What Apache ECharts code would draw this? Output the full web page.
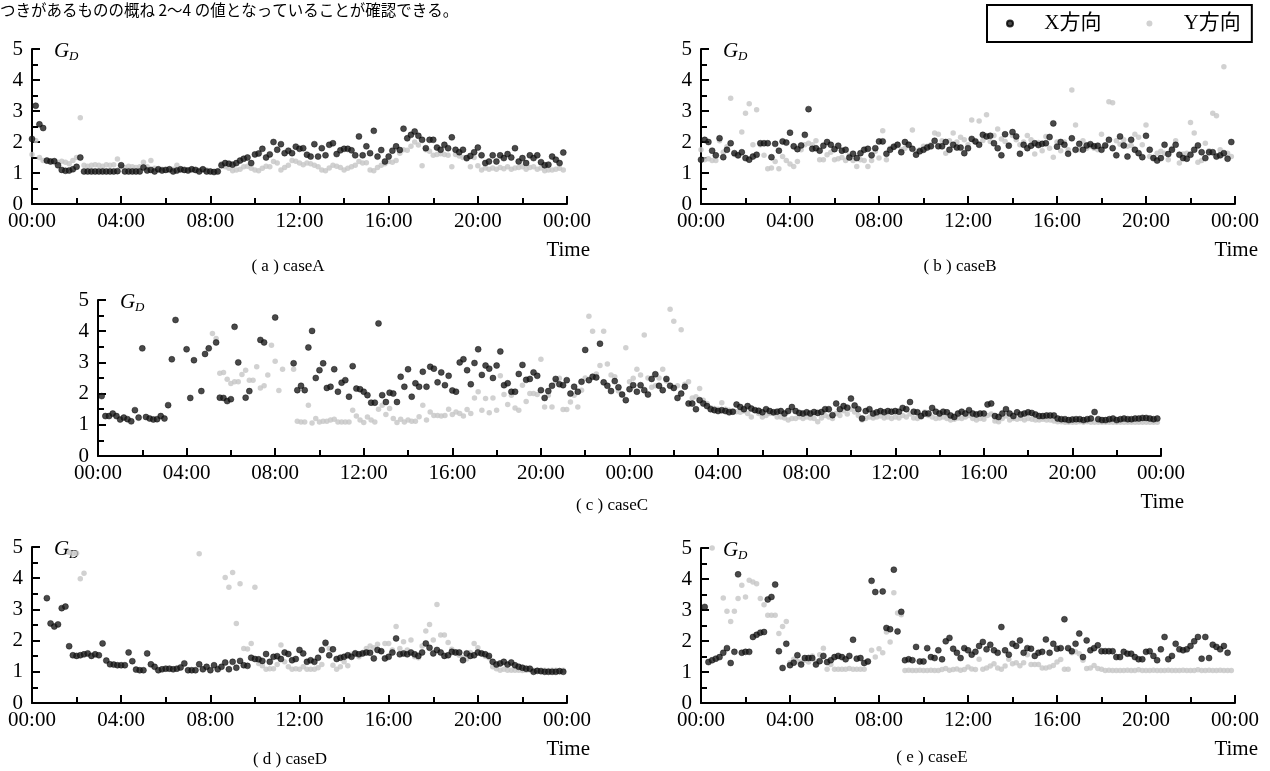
<!DOCTYPE html>
<html><head><meta charset="utf-8">
<script src="https://cdn.jsdelivr.net/npm/echarts@6/dist/echarts.min.js"></script>
<style>html,body{margin:0;padding:0;background:#fff}#c{width:1270px;height:771px}</style>
</head><body><div id="c"></div>
<script>
// values every 10 minutes from 00:00 (null = no point)
const STEP_MINUTES = 10;
const seriesNames = ['X方向', 'Y方向'];
const captions = ['( a ) caseA', '( b ) caseB', '( c ) caseC', '( d ) caseD', '( e ) caseE'];
const yTicks = [0, 1, 2, 3, 4, 5];

const caseA_X = [
2.1,3.17,2.57,2.45,1.4,1.37, 1.38,1.25,1.1,1.07,1.08,1.12, 1.2,1.5,1.05,1.05,1.05,1.05,
1.05,1.05,1.05,1.05,1.05,1.06, 1.25,1.05,1.05,1.05,1.05,1.05, 1.18,1.08,1.1,1.05,1.12,1.08,
1.1,1.12,1.05,1.08,1.12,1.1, 1.08,1.12,1.1,1.05,1.12,1.05, 1.05,1.03,1.05,1.25,1.32,1.3,
1.27,1.32,1.4,1.46,1.5,1.32, 1.6,1.63,1.78,1.5,1.6,2.0, 1.75,1.93,1.64,1.72,1.64,1.85,
1.78,1.8,1.59,1.53,1.93,1.53, 1.8,1.57,1.91,1.96,1.61,1.73, 1.78,1.78,1.73,1.57,2.18,1.57,
1.86,1.64,2.36,1.53,1.74,1.37, 1.53,1.72,1.86,1.74,2.43,2.12, 2.23,2.34,2.2,2.07,1.8,2.07,
2.07,1.82,1.75,1.91,1.8,2.15, 1.75,1.67,1.75,1.48,1.55,1.67, 1.82,1.57,1.32,1.37,1.57,1.37,
1.57,1.48,1.61,1.5,1.8,1.37, 1.48,1.32,1.57,1.48,1.57,1.35, 1.25,1.27,1.53,1.43,1.32,1.66];
const caseA_Y = [
1.6,2.05,1.5,1.4,1.38,1.38, 1.4,1.35,1.38,1.35,1.3,1.4, 1.5,2.78,1.25,1.22,1.25,1.27,
1.25,1.22,1.27,1.25,1.27,1.45, 1.2,1.18,1.22,1.2,1.18,1.2, 1.35,1.2,1.4,1.15,1.1,1.12,
1.1,1.08,1.12,1.25,1.1,1.08, 1.1,1.12,1.08,1.1,1.12,1.1, 1.05,1.05,1.08,1.3,1.2,1.15,
1.07,1.1,1.12,1.2,1.22,1.15, 1.1,1.07,1.15,1.22,1.2,1.37, 1.32,1.1,1.18,1.25,1.4,1.38,
1.32,1.27,1.32,1.3,1.25,1.2, 1.1,1.07,1.16,1.25,1.22,1.18, 1.1,1.15,1.2,1.25,1.37,1.32,
1.33,1.1,1.07,1.18,1.25,1.3, 1.37,1.35,1.4,1.64,1.75,1.73, 1.86,2.0,1.9,1.23,1.75,1.7,
1.57,1.6,1.62,1.6,1.57,1.2, 1.6,1.55,1.5,1.45,1.2,1.5, 1.23,1.1,1.16,1.12,1.16,1.12,
1.18,1.14,1.2,1.12,1.16,1.18, 1.2,1.12,1.18,1.2,1.12,1.16, 1.07,1.1,1.1,1.12,1.15,1.1];

const caseB_X = [
1.43,2.07,2.0,1.72,1.57,2.12, 1.51,1.75,1.96,1.64,1.57,1.67, 1.48,1.43,1.53,1.59,1.96,1.96,
1.96,1.51,1.94,1.72,2.02,1.98, 2.3,1.86,1.77,1.89,2.23,3.06, 1.78,1.8,1.72,1.88,2.0,1.91,
1.77,1.88,1.72,1.75,1.5,1.62, 1.48,1.64,1.75,1.78,1.57,1.8, 2.02,2.02,1.62,1.75,1.85,1.91,
1.67,2.0,1.91,1.78,1.59,1.7, 1.75,1.82,1.86,2.04,1.86,1.86, 2.0,1.75,1.91,1.82,1.82,1.64,
1.8,2.1,2.02,1.91,2.23,2.18, 2.2,1.96,1.8,1.57,2.25,1.88, 2.32,2.18,1.62,1.91,1.8,1.88,
1.96,1.9,1.94,1.96,2.16,2.6, 1.85,2.0,1.91,1.62,2.12,1.75, 1.94,1.75,1.89,1.93,1.86,1.88,
1.75,1.89,2.07,1.8,1.57,2.18, 1.89,1.53,2.07,1.75,1.64,1.51, 2.2,1.75,1.48,1.4,1.48,1.91,
1.61,1.75,1.91,1.59,1.48,1.46, 1.59,1.75,1.89,1.67,1.48,1.67, 1.67,1.53,1.57,1.64,1.46,2.0];
const caseB_Y = [
1.75,1.43,1.46,1.4,1.4,2.04, 1.67,1.85,3.41,1.6,1.55,2.32, 2.93,3.23,1.91,3.04,1.91,1.57,
1.14,1.16,1.37,1.14,1.53,1.4, 1.29,1.21,1.37,1.75,1.91,1.96, 1.91,2.04,1.43,1.43,1.59,1.67,
1.43,1.46,1.5,1.4,1.57,1.4, 1.21,1.43,1.4,1.21,1.4,1.7, 1.48,2.36,1.43,1.8,1.82,1.93,
1.75,1.8,1.93,2.39,1.7,1.75, 1.86,1.86,1.91,2.29,2.25,2.04, 1.64,2.04,2.29,2.0,2.15,2.07,
1.91,2.71,2.0,2.68,2.05,2.88, 2.02,2.21,2.42,2.1,2.02,1.9, 2.21,2.07,1.91,2.0,2.21,2.07,
1.61,1.98,1.72,2.18,1.8,1.51, 2.0,1.72,2.0,1.75,3.68,2.55, 1.75,2.04,1.8,1.86,1.8,1.75,
2.25,1.86,3.3,3.27,2.04,1.93, 2.07,1.86,1.89,2.25,2.15,1.91, 2.55,1.53,1.5,1.64,1.7,1.64,
1.43,1.8,2.04,1.32,1.61,1.64, 2.63,2.29,1.35,1.4,1.96,1.72, 2.93,2.85,1.75,4.43,1.64,1.53];

const caseC_X = [
null,1.92,1.28,1.28,1.36,1.28, 1.17,1.23,1.18,1.11,1.47,1.23, 3.45,1.25,1.2,1.17,1.18,1.28,
1.2,1.63,3.1,4.36,null,null, 3.42,1.86,3.07,null,2.08,3.27, 3.45,null,3.64,1.87,1.86,1.76,
1.82,4.14,3.0,null,1.87,2.08, null,null,3.72,3.64,null,null, 4.44,null,null,null,null,2.97,
2.11,2.25,2.11,3.48,4.01,2.5, 2.75,2.97,2.18,2.22,2.78,2.06, 2.35,2.43,1.9,2.88,2.16,2.14,
2.06,1.95,1.71,1.71,4.25,1.95, 1.73,2.03,2.0,1.73,2.54,2.22, 2.78,1.9,2.33,2.22,2.7,2.22,
2.86,2.8,2.36,2.68,2.27,2.57, 2.1,2.06,3.0,3.1,2.75,2.3, 2.98,3.42,2.6,2.9,2.8,2.5,
2.9,3.35,2.27,2.33,2.06,2.06, 2.63,2.92,2.44,2.47,2.68,2.57, 2.11,1.86,2.08,2.25,2.47,2.3,
2.27,2.43,2.0,2.22,2.06,2.38, 3.4,2.43,2.54,2.52,3.6,2.36, 2.25,2.08,2.4,2.2,1.97,1.79,
2.14,2.27,2.06,2.27,2.11,1.97, 2.47,2.62,2.25,2.11,2.47,2.25, 2.18,1.86,2.0,2.22,1.68,1.68,
1.5,1.79,1.68,1.6,1.5,1.47, 1.44,1.47,1.44,1.4,1.42,1.65, 1.57,1.5,1.6,1.52,1.47,1.45,
1.4,1.5,1.44,1.4,1.42,1.44, 1.36,1.44,1.57,1.44,1.38,1.36, 1.4,1.36,1.41,1.38,1.41,1.5,
1.5,1.31,1.68,1.5,1.6,1.55, 1.84,1.62,1.5,1.2,1.44,1.5, 1.36,1.4,1.44,1.4,1.44,1.42,
1.44,1.42,1.54,1.5,1.73,1.42, 1.4,1.28,1.36,1.36,1.54,1.42, 1.36,1.42,1.4,1.3,1.25,1.36,
1.42,1.36,1.47,1.36,1.33,1.36, 1.36,1.65,1.68,1.28,1.25,1.36, 1.5,1.36,1.28,1.4,1.33,1.36,
1.4,1.38,1.33,1.28,1.28,1.3, 1.3,1.3,1.2,1.18,1.18,1.15, 1.17,1.18,1.18,1.15,1.18,1.2,
1.41,1.18,1.15,1.15,1.18,1.2, 1.15,1.18,1.2,1.18,1.18,1.2, 1.2,1.22,1.22,1.2,1.18,1.2];
const caseC_Y = [
null,null,null,null,null,null, null,null,null,null,null,null, null,null,null,null,null,null,
null,null,null,null,null,null, null,null,null,null,null,null, null,3.93,3.77,2.65,2.68,2.46,
2.32,2.38,2.38,2.61,2.75,2.43, 2.43,2.86,2.18,2.25,2.6,3.55, 3.04,2.1,2.78,null,null,2.78,
1.11,1.09,1.09,1.63,1.06,1.2, 1.09,1.11,1.11,1.15,1.18,1.09, 1.09,1.09,1.09,1.47,1.28,1.15,
1.07,1.25,1.15,1.09,1.5,1.63, 1.33,1.52,1.2,1.07,1.18,1.09, 1.15,1.11,1.11,1.26,1.63,1.15,
1.41,1.3,1.3,1.28,1.3,1.5, 1.33,1.41,1.36,1.28,1.49,1.36, 1.86,2.06,1.47,1.84,1.39,1.86,
1.47,2.57,1.97,1.65,1.95,1.54, 1.47,2.27,1.75,2.0,2.0,1.97, 3.1,1.57,1.95,1.57,2.38,2.49,
1.49,1.49,1.73,1.95,1.57,2.11, 2.5,4.48,4.0,2.63,2.9,4.0, 2.95,2.6,2.54,2.08,1.97,3.47,
2.38,2.49,2.78,2.6,3.88,2.5, 2.2,2.25,2.5,2.78,2.4,4.7, 4.32,2.25,4.05,2.3,2.38,1.86,
1.9,2.16,1.79,1.68,1.55,1.52, 1.5,1.71,1.5,1.47,1.42,1.42, 1.4,1.44,1.36,1.25,1.47,1.36,
1.25,1.3,1.36,1.36,1.25,1.25, 1.22,1.15,1.2,1.2,1.25,1.2, 1.25,1.22,1.2,1.1,1.22,1.3,
1.25,1.2,1.36,1.3,1.45,1.35, 1.5,1.41,1.3,1.15,1.2,1.25, 1.22,1.25,1.28,1.22,1.25,1.2,
1.25,1.22,1.3,1.25,1.35,1.22, 1.2,1.25,1.41,1.3,1.25,1.2, 1.22,1.25,1.2,1.15,1.18,1.22,
1.2,1.25,1.3,1.2,1.15,1.2, 1.18,1.3,1.35,1.12,1.1,1.2, 1.28,1.15,1.2,1.18,1.2,1.15,
1.2,1.18,1.15,1.15,1.18,1.15, 1.15,1.12,1.1,1.1,1.08,1.08, 1.08,1.08,1.1,1.08,1.1,1.08,
1.08,1.08,1.08,1.08,1.08,1.08, 1.08,1.08,1.08,1.08,1.08,1.08, 1.08,1.08,1.08,1.08,1.08,1.08];

const caseD_X = [
null,null,null,null,3.36,2.55, 2.45,2.52,3.04,3.09,1.82,1.53, 1.51,1.53,1.56,1.59,1.51,1.56,
1.53,1.91,1.36,1.24,1.23,1.21, 1.21,1.21,1.62,1.34,1.07,1.05, 1.05,1.59,1.24,1.16,1.05,1.08,
1.1,1.1,1.08,1.1,1.14,1.27, 1.05,1.05,1.05,1.24,1.08,1.16, 1.05,1.21,1.08,1.16,1.3,1.08,
1.32,1.13,1.35,1.21,1.19,1.45, 1.41,1.4,1.35,1.57,1.32,1.48, 1.5,1.41,1.62,1.57,1.37,1.41,
1.7,1.59,1.32,1.37,1.32,1.45, 1.7,1.93,1.53,1.72,1.41,1.45, 1.48,1.53,1.48,1.59,1.56,1.59,
1.62,1.61,1.43,1.7,1.66,1.43, 1.48,1.62,2.07,1.56,1.59,1.56, 1.62,1.56,1.51,1.62,1.91,1.77,
1.59,1.7,1.62,1.51,1.53,1.64, 1.62,1.62,1.37,1.59,1.51,1.53, 1.62,1.59,1.56,1.51,1.32,1.23,
1.27,1.32,1.23,1.3,1.21,1.16, 1.13,1.1,1.1,1.0,1.03,1.02, 1.0,1.0,1.0,1.0,1.02,1.0];
const caseD_Y = [
null,null,null,null,null,null, null,null,null,null,4.83,4.78, 4.8,3.98,4.16,null,null,null,
null,null,null,null,null,null, null,null,null,null,null,null, null,null,null,null,null,null,
null,null,null,null,null,null, null,null,null,4.78,null,null, null,null,null,null,4.02,3.71,
4.18,2.55,3.82,1.75,1.73,1.91, 3.71,1.27,1.19,1.08,1.1,1.1, 1.23,1.86,1.32,1.16,1.08,1.1,
1.08,1.16,1.08,1.08,1.08,1.13, 1.23,1.88,1.75,1.21,1.08,1.16, 1.32,1.19,1.56,1.62,1.48,1.62,
1.75,1.83,1.77,1.88,1.66,1.91, 1.91,1.7,2.45,1.75,1.96,1.7, 2.02,1.48,1.45,1.83,2.31,2.52,
2.02,3.16,2.18,2.18,1.94,1.72, 1.64,1.53,1.45,1.41,1.62,1.91, 1.77,1.6,1.5,1.45,1.16,1.1,
1.05,1.08,1.05,1.05,1.05,1.05, 1.04,1.05,1.06,1.05,1.04,1.05, 1.05,1.04,1.05,1.05,1.04,1.05];

const caseE_X = [
null,3.1,1.32,1.38,1.43,1.48, 1.62,1.77,1.29,1.65,4.15,1.62, 1.65,1.65,2.13,2.2,2.27,2.29,
3.34,3.42,3.82,1.67,1.13,1.91, 1.22,1.3,1.54,1.24,1.45,1.45, 1.45,1.24,1.35,1.52,1.32,1.38,
1.48,1.52,1.48,1.41,1.52,2.04, 1.43,1.45,1.29,1.34,3.94,3.58, null,3.6,2.42,2.38,4.3,2.31,
2.94,1.38,1.41,1.38,1.81,1.34, 1.34,1.77,1.48,1.45,1.7,1.41, 1.99,2.1,1.75,1.62,1.45,1.77,
1.7,1.56,1.65,1.84,1.97,1.73, 1.88,1.7,1.62,2.45,1.7,1.56, 1.91,1.84,2.02,1.62,1.77,1.75,
1.52,1.62,1.65,2.05,1.62,1.91, 1.75,1.77,2.7,1.77,1.67,1.91, 2.24,1.48,2.02,1.7,1.77,1.86,
1.67,1.67,1.67,1.67,1.48,1.48, 1.65,1.59,1.59,1.48,1.41,1.41, 1.65,1.67,1.52,1.38,1.73,2.13,
1.41,1.52,1.91,1.73,1.7,1.73, 1.84,1.99,2.13,1.43,2.13,1.45, 1.88,1.81,1.73,1.84,1.62,null];
const caseE_Y = [
null,null,null,5.0,null,null, 3.39,2.96,2.63,2.96,3.37,3.8, 3.42,3.96,3.9,3.85,3.37,3.17,
2.83,2.83,2.83,2.24,2.47,2.63, 1.3,1.41,1.34,1.32,1.38,1.32, 1.52,1.32,1.56,1.77,1.09,1.24,
1.09,1.09,1.09,1.09,1.11,1.09, 1.09,1.09,1.09,1.32,1.7,1.48, 1.75,1.62,2.29,1.97,3.56,2.9,
2.85,1.05,1.06,1.05,1.05,1.06, 1.05,1.05,1.06,1.05,1.05,1.08, 1.11,1.06,1.08,1.1,1.06,1.08,
1.16,1.1,1.08,1.41,1.09,1.13, 1.19,1.27,1.13,1.09,1.19,1.41, 1.27,1.3,1.2,1.3,1.56,1.24,
1.24,1.24,1.13,1.13,1.16,1.21, 1.32,1.4,1.09,1.09,1.62,1.65, 1.59,1.38,1.11,1.13,1.21,1.11,
1.09,1.05,1.06,1.05,1.05,1.05, 1.05,1.06,1.05,1.05,1.07,1.05, 1.05,1.05,1.06,1.05,1.05,1.05,
1.06,1.05,1.05,1.05,1.06,1.05, 1.05,1.05,1.07,1.05,1.05,1.06, 1.05,1.05,1.06,1.05,1.05,1.05];

const SERIF = '"Liberation Serif", "Times New Roman", "Noto Sans CJK JP", serif';
const panels = [
  {X: caseA_X, Y: caseA_Y, hours: 24, box: {left: 32, top: 49, width: 535, height: 155}, capX: 288, capY: 267},
  {X: caseB_X, Y: caseB_Y, hours: 24, box: {left: 701, top: 49, width: 534, height: 155}, capX: 960, capY: 267},
  {X: caseC_X, Y: caseC_Y, hours: 48, box: {left: 98, top: 300, width: 1063, height: 156}, capX: 612, capY: 506},
  {X: caseD_X, Y: caseD_Y, hours: 24, box: {left: 32, top: 547, width: 535, height: 156}, capX: 290, capY: 760},
  {X: caseE_X, Y: caseE_Y, hours: 24, box: {left: 701, top: 548, width: 534, height: 155}, capX: 932, capY: 758}
];

function toPoints(arr) {
  const out = [];
  arr.forEach((v, i) => { if (v != null) out.push([i * STEP_MINUTES / 60, v]); });
  return out;
}
const pad = n => (n < 10 ? '0' : '') + n;

const grid = [], xAxis = [], yAxis = [], series = [], graphic = [];
panels.forEach((p, i) => {
  grid.push(Object.assign({containLabel: false, outerBoundsMode: 'none'}, p.box));
  xAxis.push({
    gridIndex: i, type: 'value', min: 0, max: p.hours, interval: 4,
    axisLine: {show: true, onZero: false, lineStyle: {color: '#000', width: 2}},
    axisTick: {show: true, inside: true, length: 8, lineStyle: {color: '#000', width: 2}},
    minorTick: {show: true, splitNumber: 2, length: 6, lineStyle: {color: '#000', width: 2}},
    splitLine: {show: false}, minorSplitLine: {show: false},
    axisLabel: {formatter: v => pad(v % 24) + ':00', fontSize: 21, color: '#000', fontFamily: SERIF, margin: 7, showMinLabel: true, showMaxLabel: true, hideOverlap: false}
  });
  yAxis.push({
    gridIndex: i, type: 'value', min: yTicks[0], max: yTicks[yTicks.length - 1], interval: 1,
    axisLine: {show: true, onZero: false, lineStyle: {color: '#000', width: 2}},
    axisTick: {show: true, inside: true, length: 8, lineStyle: {color: '#000', width: 2}},
    minorTick: {show: true, splitNumber: 2, length: 6, lineStyle: {color: '#000', width: 2}},
    splitLine: {show: false}, minorSplitLine: {show: false},
    axisLabel: {fontSize: 21, color: '#000', fontFamily: SERIF, margin: 9}
  });
  series.push({
    type: 'scatter', name: seriesNames[1], xAxisIndex: i, yAxisIndex: i, symbolSize: 5.5, z: 2,
    itemStyle: {color: '#c6c6c6'}, data: toPoints(p.Y)
  });
  series.push({
    type: 'scatter', name: seriesNames[0], xAxisIndex: i, yAxisIndex: i, symbolSize: 6, z: 3,
    itemStyle: {color: '#1c1c1c', borderColor: '#000', borderWidth: 0.5}, data: toPoints(p.X)
  });
  const b = p.box;
  graphic.push({type: 'text', left: b.left + 22, top: b.top - 8, style: {text: 'G', font: 'italic 21px ' + SERIF, fill: '#000'}});
  graphic.push({type: 'text', left: b.left + 37, top: b.top + 1, style: {text: 'D', font: 'italic 13px ' + SERIF, fill: '#000'}});
  graphic.push({type: 'text', right: 1270 - (b.left + b.width + 23), top: b.top + b.height + 36, style: {text: 'Time', font: '21px ' + SERIF, fill: '#000'}});
  graphic.push({type: 'text', x: p.capX, y: p.capY, style: {text: captions[i], font: '17px ' + SERIF, fill: '#000', align: 'center', verticalAlign: 'middle'}});
});
graphic.push({type: 'text', left: 0, top: 2, style: {text: 'つきがあるものの概ね 2～4 の値となっていることが確認できる。', font: '15.5px "Noto Sans CJK JP", ' + SERIF, fill: '#000'}});

const chart = echarts.init(document.getElementById('c'), null, {renderer: 'canvas'});
chart.setOption({
  backgroundColor: '#fff',
  animation: false,
  legend: {
    data: seriesNames, left: 987, top: 5, orient: 'horizontal',
    padding: [8, 11, 8, 19], itemGap: 45, itemWidth: 6, itemHeight: 6, icon: 'circle',
    borderColor: '#000', borderWidth: 2,
    textStyle: {fontSize: 21, color: '#000', fontFamily: SERIF},
    formatter: n => '     ' + n
  },
  grid, xAxis, yAxis, series, graphic
});
</script></body></html>
